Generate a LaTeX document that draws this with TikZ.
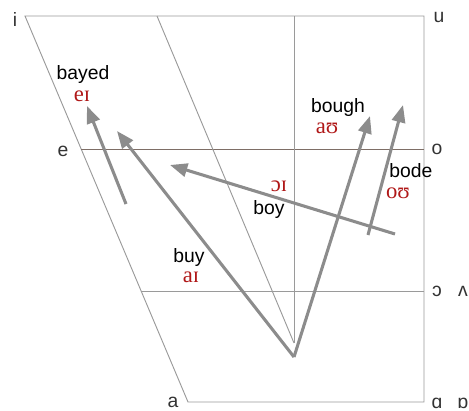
\documentclass[tikz,border=0pt]{standalone}
\usepackage{fontspec}
\setmainfont{Liberation Sans}
\newfontfamily\ipafont{Liberation Serif}
\usetikzlibrary{arrows.meta}
\definecolor{gridGray}{HTML}{9A9A9A}
\definecolor{shaftGray}{HTML}{8C8C8C}
\definecolor{ipaRed}{HTML}{B01818}
\definecolor{eLineBrown}{HTML}{7E6E66}

\begin{document}
\begin{tikzpicture}
[x=0.75pt,y=-0.75pt,
gridLine/.style={gridGray,line width=0.7pt},
midLine/.style={eLineBrown,line width=0.7pt},
glide/.style={shaftGray,line width=2.3pt},
end/.style={-{Triangle[length=13pt,width=10pt]}},
vowelLabel/.style={text=black!80,font=\fontsize{14.5}{16}\selectfont,inner sep=0pt},
wordLabel/.style={text=black,font=\fontsize{14.5}{16}\selectfont,inner sep=0pt},
ipaLabel/.style={text=ipaRed,font=\ipafont\fontsize{17}{19}\selectfont,inner sep=0pt},
]
\useasboundingbox (0,0) rectangle (469,411);
% chart corners
\coordinate (iPt) at (25,16);
\coordinate (uPt) at (424,16);
\coordinate (ePt) at (81,149);
\coordinate (oPt) at (424,149);
\coordinate (cPt) at (141,291);
\coordinate (cvPt) at (424,291);
\coordinate (aPt) at (188,402);
\coordinate (qPt) at (424,402);
\coordinate (topA) at (157,16);
\coordinate (topB) at (294,16);
\coordinate (botB) at (294,343);
% glide ends
\coordinate (start) at (294,357);
\coordinate (bayedS) at (126,204);
\coordinate (bayedE) at (87,106);
\coordinate (buyE) at (117,131);
\coordinate (boughE) at (370,116);
\coordinate (boyS) at (395,234);
\coordinate (boyE) at (170,165);
\coordinate (bodeS) at (368,235);
\coordinate (bodeE) at (403,105);
% grid
\draw[gridLine](iPt) -- (uPt) -- (qPt) -- (aPt) -- cycle;
\draw[midLine](ePt) -- (oPt);
\draw[gridLine](cPt) -- (cvPt);
\draw[gridLine](topA) -- (botB);
\draw[gridLine](topB) -- (botB);
% vowels
\node[vowelLabel] (i) at (15,19) {i};
\node[vowelLabel] (u) at (439,17) {u};
\node[vowelLabel] (e) at (63,151) {e};
\node[vowelLabel] (o) at (437,149) {o};
\node[vowelLabel] (oo) at (437,291) {ɔ};
\node[vowelLabel] (vv) at (463,291) {ʌ};
\node[vowelLabel] (a) at (173,402) {a};
\node[vowelLabel] (aa) at (437,403) {ɑ};
\node[vowelLabel] (ao) at (463,403) {ɒ};
% glides
\draw[glide,end](bayedS) -- (bayedE);
\draw[glide,end](start) -- (buyE);
\draw[glide,end](start) -- (boughE);
\draw[glide,end](boyS) -- (boyE);
\draw[glide,end](bodeS) -- (bodeE);
% words
\node[wordLabel] (bayed) at (83,74) {bayed};
\node[ipaLabel] (bayedIpa) at (82,96) {eɪ};
\node[wordLabel] (bough) at (338,107) {bough};
\node[ipaLabel] (boughIpa) at (327,128) {aʊ};
\node[wordLabel] (bode) at (411,171) {bode};
\node[ipaLabel] (bodeIpa) at (398,193) {oʊ};
\node[ipaLabel] (boyIpa) at (279,186) {ɔɪ};
\node[wordLabel] (boy) at (269,209) {boy};
\node[wordLabel] (buy) at (189,257) {buy};
\node[ipaLabel] (buyIpa) at (191,277) {aɪ};
\end{tikzpicture}
\end{document}
